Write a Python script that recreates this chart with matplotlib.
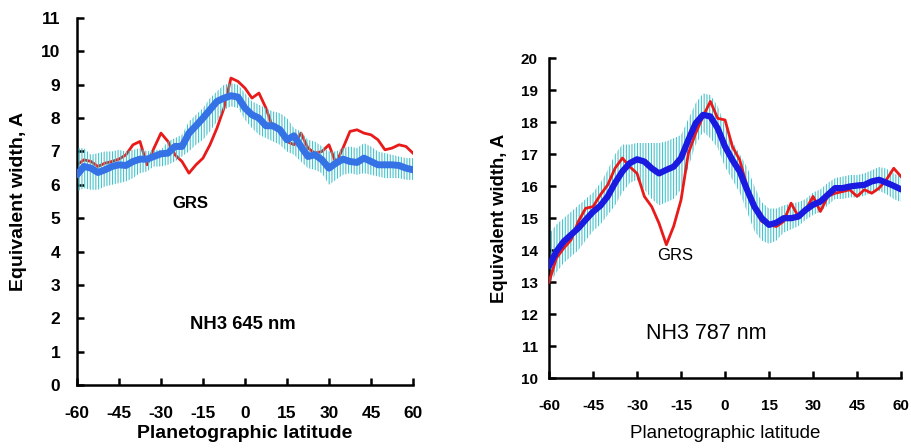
import numpy as np
import matplotlib
matplotlib.use("Agg")
import matplotlib.pyplot as plt

plt.rcParams['font.family'] = ['Liberation Sans', 'DejaVu Sans']
plt.rcParams['hatch.linewidth'] = 0.8
plt.rcParams['axes.unicode_minus'] = False

lat = np.arange(-60, 60.1, 2.5)

# NH3 645 nm panel
red_645 = [6.6, 6.75, 6.7, 6.55, 6.65, 6.7, 6.77, 6.9, 7.2, 7.3, 6.6, 7.1,
           7.55, 7.3, 6.9, 6.7, 6.35, 6.6, 6.8, 7.2, 7.7, 8.3, 9.2, 9.1, 8.9,
           8.6, 8.75, 8.3, 7.7, 7.7, 7.3, 7.2, 7.55, 7.1, 6.95, 7.0, 7.2, 6.65,
           7.1, 7.6, 7.65, 7.55, 7.5, 7.35, 7.05, 7.1, 7.2, 7.15, 6.95]
blue_645 = [6.3, 6.55, 6.5, 6.37, 6.45, 6.55, 6.6, 6.58, 6.7, 6.77, 6.77,
            6.85, 6.93, 6.95, 7.15, 7.15, 7.55, 7.77, 8.0, 8.25, 8.5, 8.6,
            8.67, 8.63, 8.3, 8.1, 8.0, 7.77, 7.77, 7.65, 7.35, 7.47, 7.15,
            6.85, 6.9, 6.75, 6.5, 6.65, 6.77, 6.7, 6.67, 6.8, 6.7, 6.6, 6.6,
            6.6, 6.58, 6.5, 6.45]
hi_645 = [7.1, 7.1, 6.9, 6.95, 7.0, 7.0, 7.05, 7.0, 7.05, 7.1, 7.0, 7.05,
          7.05, 7.3, 7.4, 7.5, 7.9, 8.1, 8.3, 8.6, 8.8, 9.0, 9.05, 9.0, 8.75,
          8.5, 8.4, 8.3, 8.2, 8.15, 8.0, 7.7, 7.6, 7.35, 7.3, 7.15, 7.0, 7.0,
          7.1, 7.15, 7.1, 7.25, 7.15, 7.0, 6.95, 6.9, 6.85, 6.8, 6.8]
lo_645 = [5.8, 5.9, 5.85, 5.85, 5.95, 6.0, 6.05, 6.1, 6.2, 6.35, 6.4, 6.55,
          6.55, 6.6, 6.7, 6.85, 7.0, 7.2, 7.35, 7.6, 7.9, 8.25, 8.35, 8.3,
          7.95, 7.7, 7.5, 7.4, 7.3, 7.2, 7.0, 6.9, 6.7, 6.5, 6.45, 6.35, 6.0,
          6.15, 6.3, 6.35, 6.3, 6.35, 6.3, 6.25, 6.2, 6.2, 6.2, 6.15, 6.15]

# NH3 787 nm panel
red_787 = [13.0, 13.75, 14.06, 14.32, 14.9, 15.31, 15.36, 15.73, 16.04,
           16.56, 16.88, 16.61, 16.4, 15.68, 15.36, 14.84, 14.17, 14.75,
           15.57, 17.03, 17.66, 18.18, 18.65, 18.12, 18.07, 17.24, 16.82,
           15.99, 15.36, 14.9, 14.79, 14.74, 14.9, 15.47, 15.05, 15.26, 15.68,
           15.21, 15.68, 15.78, 15.83, 15.89, 15.68, 15.89, 15.78, 15.94,
           16.2, 16.56, 16.3]
blue_787 = [13.5, 13.96, 14.27, 14.48, 14.69, 14.95, 15.2, 15.39, 15.68,
            16.1, 16.46, 16.72, 16.84, 16.77, 16.56, 16.4, 16.51, 16.61,
            16.88, 17.45, 17.97, 18.23, 18.18, 17.81, 17.24, 16.82, 16.46,
            15.89, 15.36, 15.0, 14.79, 14.86, 15.0, 15.0, 15.05, 15.26, 15.42,
            15.52, 15.73, 15.94, 15.94, 15.99, 16.02, 16.04, 16.15, 16.2,
            16.11, 16.01, 15.9]
hi_787 = [14.5, 14.8, 15.0, 15.2, 15.4, 15.6, 15.8, 16.1, 16.5, 17.0, 17.3,
          17.3, 17.35, 17.35, 17.35, 17.35, 17.4, 17.5, 17.6, 18.1, 18.6,
          18.9, 18.85, 18.5, 17.9, 17.4, 17.0, 16.6, 16.0, 15.5, 15.3, 15.3,
          15.4, 15.45, 15.5, 15.6, 15.8, 15.9, 16.1, 16.25, 16.3, 16.35,
          16.35, 16.4, 16.5, 16.6, 16.55, 16.4, 16.3]
lo_787 = [12.9, 13.3, 13.6, 13.8, 14.0, 14.3, 14.6, 14.8, 15.1, 15.4, 15.8,
          16.1, 16.2, 15.9, 15.6, 15.4, 15.5, 15.6, 15.9, 16.6, 17.3, 17.7,
          17.5, 17.2, 16.6, 16.2, 15.8, 15.2, 14.6, 14.3, 14.2, 14.3, 14.55,
          14.65, 14.75, 14.95, 15.1, 15.2, 15.4, 15.6, 15.6, 15.65, 15.65,
          15.7, 15.8, 15.85, 15.75, 15.6, 15.5]

xticks = [-60, -45, -30, -15, 0, 15, 30, 45, 60]

RED = '#e81a1a'
CYAN = '#45c3cb'

fig = plt.figure(figsize=(9.12, 4.48), dpi=100)
ax1 = fig.add_axes([0.0844, 0.1406, 0.3684, 0.8192])
ax2 = fig.add_axes([0.602, 0.156, 0.386, 0.714])


def style_axes(ax, ylim, yticks, tsize, ypad):
    for s in ['top', 'right']:
        ax.spines[s].set_visible(False)
    for s in ['left', 'bottom']:
        ax.spines[s].set_linewidth(1.8)
    ax.set_xlim(-60, 60)
    ax.set_ylim(*ylim)
    ax.set_xticks(xticks)
    ax.set_yticks(yticks)
    ax.tick_params(direction='in', length=5, width=1.8, labelsize=tsize)
    ax.tick_params(axis='x', pad=15)
    ax.tick_params(axis='y', pad=ypad)
    for lab in ax.get_xticklabels() + ax.get_yticklabels():
        lab.set_fontweight('bold')


# left panel
ax1.plot(lat, red_645, color=RED, lw=2.0, zorder=2)
ax1.fill_between(lat, lo_645, hi_645, facecolor='none', edgecolor=CYAN,
                 hatch='||||||', linewidth=0, zorder=3)
ax1.plot(lat, blue_645, color='#3472e6', lw=5, solid_capstyle='round',
         zorder=4)
style_axes(ax1, (0, 11), range(0, 12), 12.5, 12)
ax1.set_xlabel('Planetographic latitude', fontsize=14, fontweight='bold')
ax1.set_ylabel('Equivalent width, A', fontsize=14, fontweight='bold')
ax1.xaxis.set_label_coords(0.5, -0.109)
ax1.yaxis.set_label_coords(-0.149, 0.5)
ax1.text(-19.5, 5.45, 'GRS', fontsize=12, fontweight='bold',
         ha='center', va='center')
ax1.text(-0.7, 1.8, 'NH3 645 nm', fontsize=13.3, fontweight='bold',
         ha='center', va='center')

# right panel
ax2.fill_between(lat, lo_787, hi_787, facecolor='none', edgecolor=CYAN,
                 hatch='||||||', linewidth=0, zorder=2)
ax2.plot(lat, red_787, color=RED, lw=2.0, zorder=3)
ax2.plot(lat, blue_787, color='#1a1ae0', lw=4.5, solid_capstyle='round',
         zorder=4)
style_axes(ax2, (10, 20), range(10, 21), 11, 8)
ax2.set_xlabel('Planetographic latitude', fontsize=13.5)
ax2.set_ylabel('Equivalent width, A', fontsize=13.3, fontweight='bold')
ax2.xaxis.set_label_coords(0.5, -0.147)
ax2.yaxis.set_label_coords(-0.1165, 0.5)
ax2.text(-17.1, 13.82, 'GRS', fontsize=12, ha='center', va='center')
ax2.text(-6.3, 11.39, 'NH3 787 nm', fontsize=15.5, ha='center', va='center')

fig.savefig('out.png', dpi=100)
